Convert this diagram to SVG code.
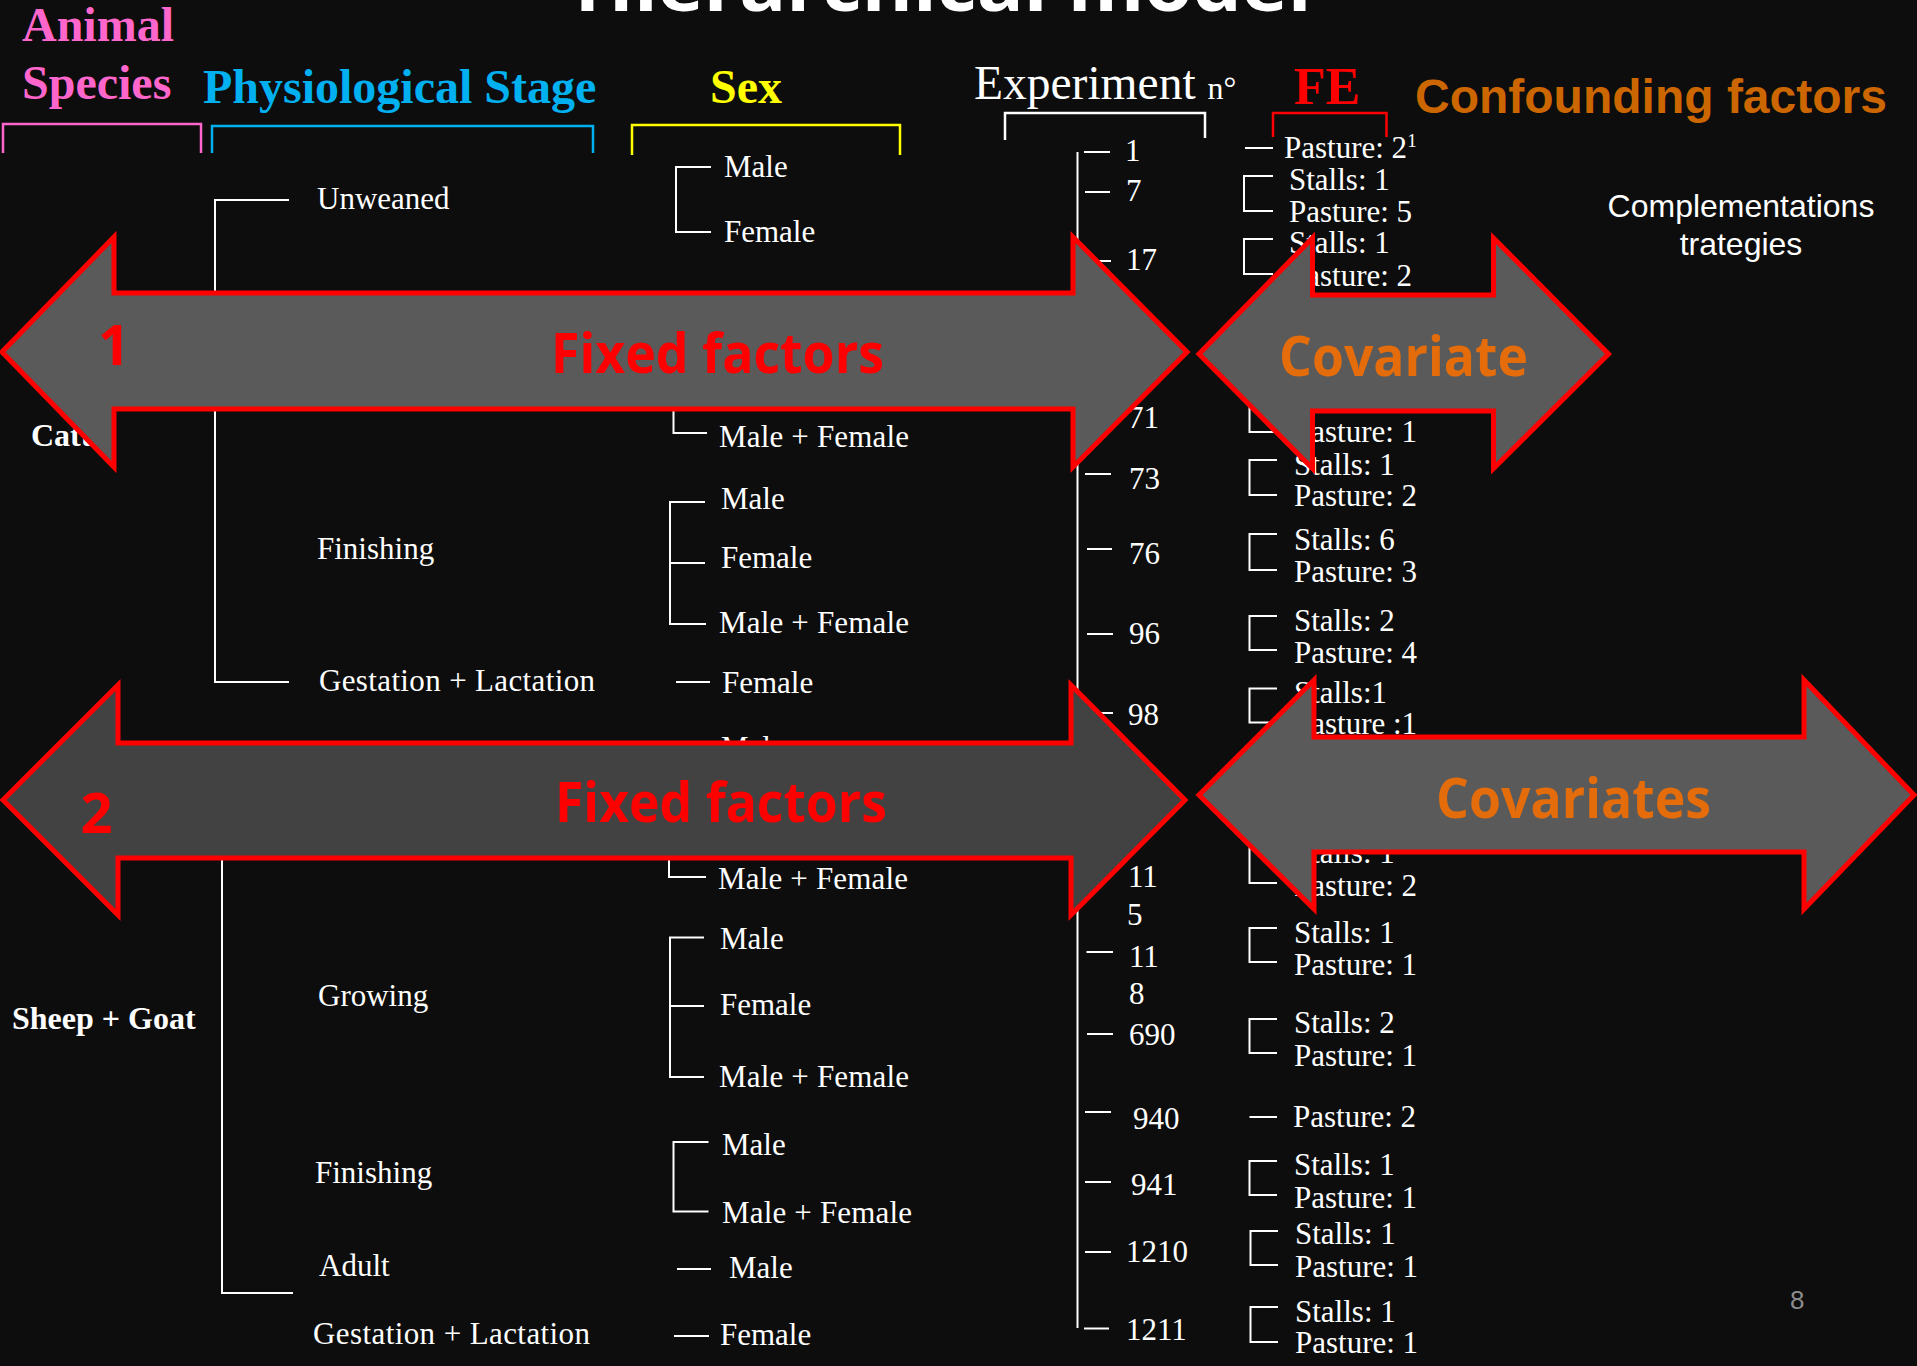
<svg xmlns="http://www.w3.org/2000/svg" width="1917" height="1366" viewBox="0 0 1917 1366">
<defs>
<style>
.t{font-family:"Liberation Serif","Times New Roman",serif;font-size:31px;fill:#ffffff}
.tb{font-family:"Liberation Serif","Times New Roman",serif;font-size:32px;font-weight:bold;fill:#ffffff}
.h{font-family:"Liberation Serif","Times New Roman",serif;font-size:48px;font-weight:bold}
.ln{fill:none;stroke:#ffffff;stroke-width:2}
.arrow{stroke:#ff0000;stroke-width:5;stroke-linejoin:miter}
.big{font-family:"Open Sans","Liberation Sans",sans-serif;font-weight:bold;font-size:56px}
</style>
</defs>
<rect x="0" y="0" width="1917" height="1366" fill="#0d0d0d"/>

<g id="title">
<text x="943" y="11" text-anchor="middle" font-family="Open Sans, Liberation Sans, sans-serif" font-weight="bold" font-size="72" fill="#ffffff" textLength="737" lengthAdjust="spacingAndGlyphs">Hierarchical model</text>
</g>

<g id="headers">
<text class="h" x="22" y="41" fill="#FF66CC">Animal</text>
<text class="h" x="22" y="99" fill="#FF66CC">Species</text>
<text class="h" x="203" y="103" fill="#00B0F0">Physiological Stage</text>
<text class="h" x="710" y="103" fill="#FFFF00">Sex</text>
<text x="974" y="99" font-family="Liberation Serif, Times New Roman, serif" font-size="47.5" fill="#ffffff">Experiment <tspan font-size="32">n°</tspan></text>
<text x="1294" y="104" font-family="Liberation Serif, Times New Roman, serif" font-size="52" font-weight="bold" fill="#FF0000">FE</text>
<text x="1415" y="113" font-family="Liberation Sans, Arial, sans-serif" font-size="48" font-weight="bold" fill="#CC6600">Confounding factors</text>
<path d="M3,153 V124 H201 V153" fill="none" stroke="#FF66CC" stroke-width="2.5"/>
<path d="M212,153 V126 H593 V153" fill="none" stroke="#00B0F0" stroke-width="2.5"/>
<path d="M632,155 V125 H900 V155" fill="none" stroke="#FFFF00" stroke-width="2.5"/>
<path d="M1005,140 V113 H1205 V138" fill="none" stroke="#ffffff" stroke-width="2.5"/>
<path d="M1273,137 V113 H1386.5 V137" fill="none" stroke="#FF0000" stroke-width="2.5"/>
</g>

<g id="connectors">
<path class="ln" d="M289,200 H215 V682 H289"/>
<path class="ln" d="M222,800 V1293 H293"/>
<path class="ln" d="M711,167 H676 V232 H711"/>
<path class="ln" d="M673.5,400 V433 H707"/>
<path class="ln" d="M705,502 H670 V624 H706 M670,563 H705"/>
<path class="ln" d="M676,682 H710"/>
<path class="ln" d="M669,840 V877 H706"/>
<path class="ln" d="M704,937.5 H670 V1077 H704 M670,1006 H704"/>
<path class="ln" d="M708.5,1142 H673.5 V1211.5 H708.5"/>
<path class="ln" d="M677,1269 H711"/>
<path class="ln" d="M674,1336 H709"/>
<path class="ln" d="M1077.5,152 V1328"/>
<path class="ln" d="M1084,152 H1110 M1085,192 H1110 M1085,261 H1111 M1085,474 H1111 M1087,549 H1112 M1087,634 H1113 M1087,713 H1113 M1086.5,952 H1113 M1087,1034 H1113 M1085,1112 H1111 M1085,1182 H1111 M1085,1252 H1111 M1084,1328.5 H1109"/>
<path class="ln" d="M1245,148 H1273"/>
<path class="ln" d="M1273,176 H1244 V211 H1273"/>
<path class="ln" d="M1273,239 H1244 V274 H1273"/>
<path class="ln" d="M1277,398 H1249.5 V432 H1277"/>
<path class="ln" d="M1277,460 H1249.5 V495 H1277"/>
<path class="ln" d="M1277,534 H1249.5 V570 H1277"/>
<path class="ln" d="M1277,616 H1249.5 V650 H1277"/>
<path class="ln" d="M1277,688.5 H1249.5 V722.5 H1277"/>
<path class="ln" d="M1277,848 H1249.5 V883 H1277"/>
<path class="ln" d="M1277,928 H1249.5 V962 H1277"/>
<path class="ln" d="M1277,1019 H1249.5 V1053 H1277"/>
<path class="ln" d="M1249.5,1117 H1277"/>
<path class="ln" d="M1277,1161 H1249.5 V1195 H1277"/>
<path class="ln" d="M1278,1231 H1250.5 V1265 H1278"/>
<path class="ln" d="M1278,1307 H1250.5 V1342 H1278"/>
</g>

<g id="species">
<text class="tb" x="31" y="446">Cattle</text>
<text class="tb" x="12" y="1029">Sheep + Goat</text>
</g>

<g id="stages">
<text class="t" x="317" y="209">Unweaned</text>
<text class="t" x="317" y="559">Finishing</text>
<text class="t" x="319" y="691" textLength="276">Gestation + Lactation</text>
<text class="t" x="318" y="1006">Growing</text>
<text class="t" x="315" y="1183">Finishing</text>
<text class="t" x="319" y="1276">Adult</text>
<text class="t" x="313" y="1344" textLength="277">Gestation + Lactation</text>
</g>

<g id="sexes">
<text class="t" x="724" y="177">Male</text>
<text class="t" x="724" y="242">Female</text>
<text class="t" x="719" y="447" textLength="190">Male + Female</text>
<text class="t" x="721" y="509">Male</text>
<text class="t" x="721" y="568">Female</text>
<text class="t" x="719" y="633" textLength="190">Male + Female</text>
<text class="t" x="722" y="693">Female</text>
<text class="t" x="721" y="758">Male</text>
<text class="t" x="718" y="889" textLength="190">Male + Female</text>
<text class="t" x="720" y="949">Male</text>
<text class="t" x="720" y="1015">Female</text>
<text class="t" x="719" y="1087" textLength="190">Male + Female</text>
<text class="t" x="722" y="1155">Male</text>
<text class="t" x="722" y="1223" textLength="190">Male + Female</text>
<text class="t" x="729" y="1278">Male</text>
<text class="t" x="720" y="1345">Female</text>
</g>

<g id="experiments">
<text class="t" x="1125" y="161">1</text>
<text class="t" x="1126" y="201">7</text>
<text class="t" x="1126" y="270">17</text>
<text class="t" x="1128" y="428">71</text>
<text class="t" x="1129" y="489">73</text>
<text class="t" x="1129" y="564">76</text>
<text class="t" x="1129" y="644">96</text>
<text class="t" x="1128" y="725">98</text>
<text class="t" x="1128" y="887">11</text>
<text class="t" x="1127" y="925">5</text>
<text class="t" x="1129" y="967">11</text>
<text class="t" x="1129" y="1004">8</text>
<text class="t" x="1129" y="1045">690</text>
<text class="t" x="1133" y="1129">940</text>
<text class="t" x="1131" y="1195">941</text>
<text class="t" x="1126" y="1262">1210</text>
<text class="t" x="1126" y="1340">1211</text>
</g>

<g id="fe">
<text class="t" x="1284" y="158">Pasture: 2<tspan font-size="19" dy="-11">1</tspan></text>
<text class="t" x="1289" y="190">Stalls: 1</text>
<text class="t" x="1289" y="222">Pasture: 5</text>
<text class="t" x="1289" y="253">Stalls: 1</text>
<text class="t" x="1289" y="286">Pasture: 2</text>
<text class="t" x="1294" y="411">Stalls: 1</text>
<text class="t" x="1294" y="442">Pasture: 1</text>
<text class="t" x="1294" y="475">Stalls: 1</text>
<text class="t" x="1294" y="506">Pasture: 2</text>
<text class="t" x="1294" y="550">Stalls: 6</text>
<text class="t" x="1294" y="582">Pasture: 3</text>
<text class="t" x="1294" y="631">Stalls: 2</text>
<text class="t" x="1294" y="663">Pasture: 4</text>
<text class="t" x="1294" y="703">Stalls:1</text>
<text class="t" x="1294" y="734">Pasture :1</text>
<text class="t" x="1294" y="863">Stalls: 1</text>
<text class="t" x="1294" y="896">Pasture: 2</text>
<text class="t" x="1294" y="943">Stalls: 1</text>
<text class="t" x="1294" y="975">Pasture: 1</text>
<text class="t" x="1294" y="1033">Stalls: 2</text>
<text class="t" x="1294" y="1066">Pasture: 1</text>
<text class="t" x="1293" y="1127">Pasture: 2</text>
<text class="t" x="1294" y="1175">Stalls: 1</text>
<text class="t" x="1294" y="1208">Pasture: 1</text>
<text class="t" x="1295" y="1244">Stalls: 1</text>
<text class="t" x="1295" y="1277">Pasture: 1</text>
<text class="t" x="1295" y="1322">Stalls: 1</text>
<text class="t" x="1295" y="1353">Pasture: 1</text>
</g>

<g id="confounding">
<text x="1741" y="217" text-anchor="middle" font-family="Liberation Sans, Arial, sans-serif" font-size="32" fill="#ffffff">Complementations</text>
<text x="1741" y="255" text-anchor="middle" font-family="Liberation Sans, Arial, sans-serif" font-size="32" fill="#ffffff">trategies</text>
</g>

<g id="arrow-fixed-1">
<path class="arrow" fill="#5a5a5a" d="M2,352 L114,237 L114,293 L1073,293 L1073,237 L1187,352 L1073,467 L1073,409 L114,409 L114,467 Z"/>
<text class="big" x="114" y="365" text-anchor="middle" font-size="40" fill="#ff0000">1</text>
<text class="big" x="551" y="373" fill="#ff0000" textLength="333" lengthAdjust="spacingAndGlyphs">Fixed factors</text>
</g>

<g id="arrow-fixed-2">
<path class="arrow" fill="#424242" d="M3,800 L118,685 L118,743 L1071,743 L1071,685 L1185,800 L1071,915 L1071,858 L118,858 L118,915 Z"/>
<text class="big" x="96.5" y="833" text-anchor="middle" font-size="40" fill="#ff0000">2</text>
<text class="big" x="555" y="822" fill="#ff0000" textLength="332" lengthAdjust="spacingAndGlyphs">Fixed factors</text>
</g>

<g id="arrow-covariate">
<path class="arrow" fill="#5a5a5a" d="M1199,354 L1312.5,238 L1312.5,295 L1493.5,295 L1493.5,238 L1608.5,354 L1493.5,468.5 L1493.5,411 L1312.5,411 L1312.5,468.5 Z"/>
<text class="big" x="1279" y="375.5" fill="#E46C0A" textLength="249" lengthAdjust="spacingAndGlyphs">Covariate</text>
</g>

<g id="arrow-covariates">
<path class="arrow" fill="#5a5a5a" d="M1199,795 L1314,680 L1314,737 L1804,737 L1804,680 L1914,795 L1804,909 L1804,852 L1314,852 L1314,909 Z"/>
<text class="big" x="1436" y="817.5" fill="#E46C0A" textLength="275" lengthAdjust="spacingAndGlyphs">Covariates</text>
</g>

<g id="page-number">
<text x="1790" y="1309" font-family="Liberation Sans, Arial, sans-serif" font-size="26" fill="#8c8c8c">8</text>
</g>
</svg>
